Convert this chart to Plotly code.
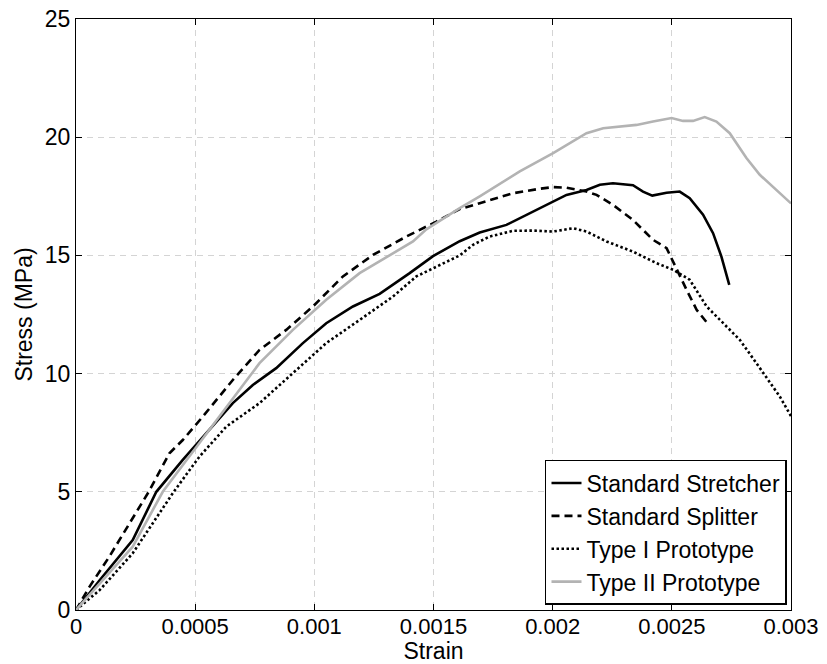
import plotly.graph_objects as go

# Stress-strain curves for four masonry unit types
stretcher_strain = [0, 0.0001, 0.000238, 0.000337, 0.000448, 0.00056, 0.000658, 0.000742, 0.00084,
                    0.000952, 0.00105, 0.001162, 0.001274, 0.0014, 0.001498, 0.00161, 0.001694, 0.001806,
                    0.00189, 0.001932, 0.002, 0.002058, 0.002142, 0.002198, 0.002253, 0.002337, 0.002379,
                    0.002418, 0.002478, 0.002533, 0.002575, 0.002631, 0.002673, 0.002708, 0.002741]
stretcher_stress = [0, 1.27, 2.96, 5.0, 6.35, 7.62, 8.75, 9.52, 10.23,
                    11.29, 12.13, 12.84, 13.37, 14.25, 14.97, 15.6, 15.97, 16.29,
                    16.72, 16.93, 17.28, 17.56, 17.77, 17.99, 18.05, 17.97, 17.70,
                    17.53, 17.65, 17.70, 17.42, 16.72, 15.94, 14.95, 13.75]

splitter_strain = [0, 0.000057, 0.00014, 0.000305, 0.000392, 0.000448, 0.000532, 0.000658, 0.00077,
                   0.000882, 0.000994, 0.00112, 0.001246, 0.001386, 0.001512, 0.00161, 0.001694, 0.001834,
                   0.001946, 0.002002, 0.002058, 0.002142, 0.002184, 0.002253, 0.002337, 0.002421,
                   0.002478, 0.00252, 0.002562, 0.002604, 0.002652]
splitter_stress = [0, 0.99, 2.26, 5.0, 6.63, 7.19, 8.18, 9.73, 11.0,
                   11.85, 12.84, 14.11, 15.02, 15.8, 16.43, 16.96, 17.21, 17.63,
                   17.82, 17.89, 17.86, 17.70, 17.56, 17.14, 16.50, 15.66,
                   15.31, 14.39, 13.54, 12.70, 12.10]

type1_strain = [0, 0.0001, 0.000238, 0.00041, 0.000518, 0.000631, 0.00077, 0.00091, 0.00105,
                0.00119, 0.00133, 0.001428, 0.001554, 0.00161, 0.001666, 0.001736, 0.001834, 0.001918,
                0.002002, 0.002086, 0.002142, 0.002226, 0.002337, 0.002436, 0.002506, 0.002575,
                0.002646, 0.00273, 0.002785, 0.002855, 0.002953, 0.003]
type1_stress = [0, 0.85, 2.40, 5.0, 6.49, 7.76, 8.75, 10.02, 11.29,
                12.27, 13.26, 14.11, 14.75, 15.0, 15.45, 15.80, 16.04, 16.05,
                16.01, 16.15, 16.01, 15.59, 15.16, 14.67, 14.39, 13.97,
                12.84, 11.99, 11.43, 10.44, 9.03, 8.2]

type2_strain = [0, 0.000238, 0.000364, 0.00052, 0.000631, 0.00077, 0.00091, 0.00105, 0.00119,
                0.00133, 0.001414, 0.00147, 0.001554, 0.00161, 0.001694, 0.001834, 0.001862, 0.002002,
                0.002142, 0.002212, 0.002352, 0.002421, 0.002499, 0.002547, 0.002589, 0.002638,
                0.002687, 0.002743, 0.002813, 0.002869, 0.002939, 0.003]
type2_stress = [0, 2.68, 5.0, 7.1, 8.60, 10.44, 11.85, 13.12, 14.25,
                15.1, 15.59, 16.1, 16.64, 17.0, 17.5, 18.35, 18.55, 19.33,
                20.17, 20.38, 20.52, 20.66, 20.81, 20.69, 20.69, 20.85,
                20.66, 20.17, 19.12, 18.41, 17.77, 17.2]

x_ticks = [0, 0.0005, 0.001, 0.0015, 0.002, 0.0025, 0.003]
x_tick_labels = ["0", "0.0005", "0.001", "0.0015", "0.002", "0.0025", "0.003"]
y_ticks = [0, 5, 10, 15, 20, 25]
y_tick_labels = ["0", "5", "10", "15", "20", "25"]

FONT = "Liberation Sans, Arial, sans-serif"

fig = go.Figure()
fig.add_trace(go.Scatter(x=stretcher_strain, y=stretcher_stress, mode="lines",
                         name="Standard Stretcher",
                         line=dict(color="black", width=2.6)))
fig.add_trace(go.Scatter(x=splitter_strain, y=splitter_stress, mode="lines",
                         name="Standard Splitter",
                         line=dict(color="black", width=2.6, dash="8px,5px")))
fig.add_trace(go.Scatter(x=type1_strain, y=type1_stress, mode="lines",
                         name="Type I Prototype",
                         line=dict(color="black", width=2.6, dash="2.5px,2.5px")))
fig.add_trace(go.Scatter(x=type2_strain, y=type2_stress, mode="lines",
                         name="Type II Prototype",
                         line=dict(color="#b3b3b3", width=2.6)))

axis_common = dict(
    showline=True, linecolor="black", linewidth=1.3, mirror="ticks",
    ticks="inside", ticklen=6, tickcolor="black", tickwidth=1,
    showgrid=True, gridcolor="#d4d4d4", gridwidth=1, griddash="6px,5px",
    zeroline=False, automargin=False,
)

fig.update_xaxes(range=[0, 0.003], tickvals=x_ticks, ticktext=x_tick_labels,
                 ticklabelstandoff=-4,
                 tickfont=dict(size=22, color="black", family=FONT),
                 title=dict(text="Strain", font=dict(size=23, color="black", family=FONT), standoff=2),
                 **axis_common)
fig.update_yaxes(range=[0, 25], tickvals=y_ticks, ticktext=y_tick_labels,
                 tickfont=dict(size=23, color="black", family=FONT),
                 title=dict(text="Stress (MPa)", font=dict(size=23, color="black", family=FONT), standoff=5),
                 **axis_common)

fig.update_layout(
    width=827, height=664,
    margin=dict(l=76, r=36, t=19, b=54),
    paper_bgcolor="white", plot_bgcolor="white",
    font=dict(family=FONT, size=23, color="black"),
    showlegend=True,
    legend=dict(x=0.9944, y=0.0085, xanchor="right", yanchor="bottom",
                bgcolor="white", bordercolor="black", borderwidth=1.5,
                font=dict(size=23, color="black", family=FONT),
                tracegroupgap=0, itemwidth=30),
)

fig.write_html("out.html")
